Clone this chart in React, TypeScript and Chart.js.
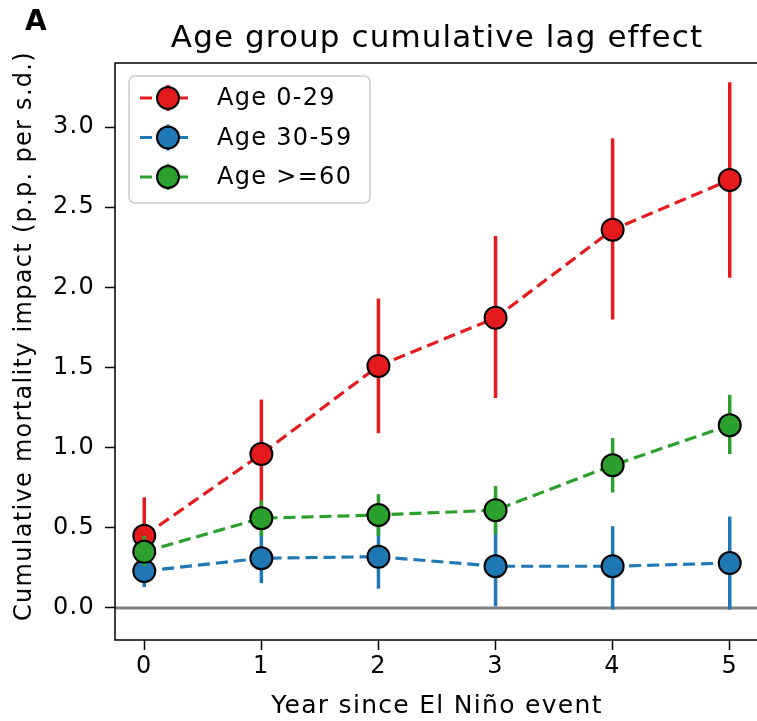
import React, { useEffect, useRef } from 'react';
import { Chart, registerables } from 'chart.js';

Chart.register(...registerables);

const FONT = "'DejaVu Sans', sans-serif";
const LETTER_SPACING = '1.3px';

const years = [0, 1, 2, 3, 4, 5];
const yTicks = [0, 0.5, 1, 1.5, 2, 2.5, 3];
const seriesNames = ['Age 0-29', 'Age 30-59', 'Age >=60'];
const seriesColors = ['#e41a1c', '#1f77b4', '#2ca02c'];

const young = [0.45, 0.96, 1.51, 1.81, 2.36, 2.67];
const youngLow = [0.21, 0.62, 1.09, 1.31, 1.8, 2.06];
const youngHigh = [0.69, 1.3, 1.93, 2.32, 2.93, 3.28];

const middle = [0.23, 0.31, 0.32, 0.26, 0.26, 0.28];
const middleLow = [0.13, 0.155, 0.12, 0.01, -0.01, -0.01];
const middleHigh = [0.33, 0.47, 0.51, 0.51, 0.51, 0.57];

const old = [0.35, 0.56, 0.58, 0.61, 0.89, 1.14];
const oldLow = [0.26, 0.45, 0.45, 0.46, 0.72, 0.96];
const oldHigh = [0.45, 0.67, 0.71, 0.76, 1.06, 1.33];

const seriesValues = [young, middle, old];
const seriesLows = [youngLow, middleLow, oldLow];
const seriesHighs = [youngHigh, middleHigh, oldHigh];

const titleText = 'Age group cumulative lag effect';
const panelLetter = 'A';
const xLabel = 'Year since El Niño event';
const yLabel = 'Cumulative mortality impact (p.p. per s.d.)';

const setSpacing = (chart: any) => {
  (chart.ctx as any).letterSpacing = LETTER_SPACING;
};

const spacingPlugin = {
  id: 'spacing',
  beforeUpdate: setSpacing,
  beforeLayout: setSpacing,
  beforeDraw: setSpacing,
};

const zeroLinePlugin = {
  id: 'zeroLine',
  beforeDatasetsDraw(chart: any) {
    const { ctx, chartArea, scales } = chart;
    const y = scales.y.getPixelForValue(0);
    ctx.save();
    ctx.strokeStyle = '#808080';
    ctx.lineWidth = 3;
    ctx.beginPath();
    ctx.moveTo(chartArea.left, y);
    ctx.lineTo(chartArea.right, y);
    ctx.stroke();
    ctx.restore();
  },
};

const errorBarPlugin = {
  id: 'errorBars',
  beforeDatasetDraw(chart: any, args: any) {
    const i = args.index;
    const { ctx, chartArea, scales } = chart;
    ctx.save();
    ctx.beginPath();
    ctx.rect(chartArea.left, chartArea.top, chartArea.right - chartArea.left, chartArea.bottom - chartArea.top);
    ctx.clip();
    ctx.strokeStyle = seriesColors[i];
    ctx.lineWidth = 3.5;
    years.forEach((yr, j) => {
      const x = scales.x.getPixelForValue(yr);
      const y1 = scales.y.getPixelForValue(seriesLows[i][j]);
      const y2 = scales.y.getPixelForValue(seriesHighs[i][j]);
      ctx.beginPath();
      ctx.moveTo(x, y1);
      ctx.lineTo(x, y2);
      ctx.stroke();
    });
    ctx.restore();
  },
};

const decorPlugin = {
  id: 'decor',
  afterDraw(chart: any) {
    const { ctx, chartArea } = chart;
    ctx.save();
    ctx.strokeStyle = '#000';
    ctx.lineWidth = 1.5;
    ctx.strokeRect(chartArea.left, chartArea.top, chartArea.right - chartArea.left, chartArea.bottom - chartArea.top);

    ctx.fillStyle = '#000';
    (ctx as any).letterSpacing = '1.1px';
    ctx.font = `31px ${FONT}`;
    ctx.textAlign = 'center';
    ctx.textBaseline = 'alphabetic';
    ctx.fillText(titleText, (chartArea.left + chartArea.right) / 2, 47);

    // y axis label
    (ctx as any).letterSpacing = LETTER_SPACING;
    ctx.save();
    ctx.translate(25, 336);
    ctx.rotate(-Math.PI / 2);
    ctx.font = `24px ${FONT}`;
    ctx.textAlign = 'center';
    ctx.textBaseline = 'middle';
    ctx.fillText(yLabel, 0, 0);
    ctx.restore();

    (ctx as any).letterSpacing = '0px';
    ctx.font = `bold 28px ${FONT}`;
    ctx.textAlign = 'left';
    ctx.textBaseline = 'alphabetic';
    ctx.fillText(panelLetter, 25, 30);

    const bx = chartArea.left + 14;
    const by = chartArea.top + 13;
    const bw = 241;
    const bh = 127;
    ctx.beginPath();
    (ctx as any).roundRect(bx, by, bw, bh, 6);
    ctx.fillStyle = 'rgba(255,255,255,0.8)';
    ctx.fill();
    ctx.strokeStyle = '#cccccc';
    ctx.lineWidth = 1.5;
    ctx.stroke();

    chart.data.datasets.forEach((ds: any, i: number) => {
      const cy = by + 22 + i * 39.5;
      const color = seriesColors[i];
      ctx.strokeStyle = color;
      ctx.lineWidth = 3.2;
      ctx.setLineDash([12, 6]);
      ctx.beginPath();
      ctx.moveTo(bx + 11, cy);
      ctx.lineTo(bx + 65, cy);
      ctx.stroke();
      ctx.setLineDash([]);
      ctx.lineWidth = 3.5;
      ctx.beginPath();
      ctx.moveTo(bx + 39, cy - 13);
      ctx.lineTo(bx + 39, cy + 13);
      ctx.stroke();
      ctx.beginPath();
      ctx.arc(bx + 39, cy, 11, 0, Math.PI * 2);
      ctx.fillStyle = color;
      ctx.fill();
      ctx.lineWidth = 2;
      ctx.strokeStyle = '#000';
      ctx.stroke();
      ctx.fillStyle = '#000';
      (ctx as any).letterSpacing = LETTER_SPACING;
      ctx.font = `24px ${FONT}`;
      ctx.textAlign = 'left';
      ctx.textBaseline = 'middle';
      ctx.fillText(ds.label, bx + 88, cy + 1);
    });
    ctx.restore();
  },
};

export default function App() {
  const canvasRef = useRef<HTMLCanvasElement | null>(null);

  useEffect(() => {
    if (!canvasRef.current) return;
    const chart = new Chart(canvasRef.current, {
      type: 'line',
      data: {
        datasets: seriesNames.map((name, i) => ({
          label: name,
          data: years.map((x, j) => ({ x, y: seriesValues[i][j] })),
          borderColor: seriesColors[i],
          backgroundColor: seriesColors[i],
          borderWidth: 3.2,
          borderDash: [12, 6],
          pointRadius: 11,
          pointBorderWidth: 2,
          pointBorderColor: '#000',
          pointBackgroundColor: seriesColors[i],
          order: 3 - i,
          tension: 0,
          fill: false,
        })),
      },
      options: {
        animation: false,
        responsive: false,
        maintainAspectRatio: false,
        devicePixelRatio: 1,
        layout: { padding: { left: 0, right: 3, top: 63, bottom: 0 } },
        plugins: {
          legend: { display: false },
          tooltip: { enabled: false },
          title: { display: false },
        },
        scales: {
          x: {
            type: 'linear',
            min: -0.25,
            max: 5.25,
            afterBuildTicks: (s: any) => {
              s.ticks = years.map((v) => ({ value: v }));
            },
            afterFit: (s: any) => {
              s.height = 81;
            },
            grid: { display: true, drawOnChartArea: false, drawTicks: true, tickLength: 10, tickColor: '#000', tickWidth: 1.5 },
            border: { display: false },
            ticks: {
              color: '#000',
              font: { family: FONT, size: 24 },
              padding: 2,
              maxRotation: 0,
              autoSkip: false,
              callback: (v: any) => String(v),
            },
            title: {
              display: true,
              text: xLabel,
              color: '#000',
              font: { family: FONT, size: 25 },
              padding: { top: 0, bottom: 0 },
            },
          },
          y: {
            type: 'linear',
            min: -0.2,
            max: 3.4,
            afterBuildTicks: (s: any) => {
              s.ticks = yTicks.map((v) => ({ value: v }));
            },
            afterFit: (s: any) => {
              s.width = 115;
            },
            grid: { display: true, drawOnChartArea: false, drawTicks: true, tickLength: 10, tickColor: '#000', tickWidth: 1.5 },
            border: { display: false },
            ticks: {
              color: '#000',
              font: { family: FONT, size: 24 },
              padding: 10,
              callback: (v: any) => Number(v).toFixed(1),
            },
            title: { display: false },
          },
        },
      },
      plugins: [spacingPlugin, zeroLinePlugin, errorBarPlugin, decorPlugin],
    });
    return () => chart.destroy();
  }, []);

  return (
    <div style={{ position: 'fixed', left: 0, top: 0, width: 757, height: 721, overflow: 'hidden', background: '#fff' }}>
      <canvas ref={canvasRef} width={772} height={721} style={{ display: 'block', width: 772, height: 721 }} />
    </div>
  );
}
